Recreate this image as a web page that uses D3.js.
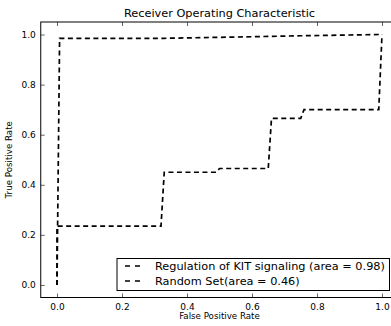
<!DOCTYPE html>
<html>
<head>
<meta charset="utf-8">
<script src="https://cdn.jsdelivr.net/npm/d3@7"></script>
<style>
  body { margin: 0; background: #fff; }
  svg { display: block; font-family: "DejaVu Sans", sans-serif; }
</style>
</head>
<body>
<svg id="svg" width="391" height="326"></svg>
<script>
// ROC curves
const kitFpr = [0, 0.008, 0.33, 0.55, 0.75, 0.99, 1.0];
const kitTpr = [0, 0.985, 0.985, 0.99, 0.995, 1.0, 1.0];

const randFpr = [0, 0.0, 0.01, 0.32, 0.33, 0.49, 0.50, 0.65, 0.66, 0.75, 0.76, 0.99, 1.0];
const randTpr = [0, 0.235, 0.235, 0.235, 0.45, 0.45, 0.465, 0.465, 0.665, 0.665, 0.70, 0.70, 1.0];

const seriesNames = ["Regulation of KIT signaling (area = 0.98)", "Random Set(area = 0.46)"];
const tickValues = [0, 0.2, 0.4, 0.6, 0.8, 1.0];

const svg = d3.select("#svg");

const x = d3.scaleLinear().domain([-0.05, 1.05]).range([40.75, 398.25]);
const y = d3.scaleLinear().domain([-0.05, 1.05]).range([297.5, 22]);

// frame
svg.append("rect")
    .attr("x", x(-0.05)).attr("y", y(1.05))
    .attr("width", x(1.05) - x(-0.05)).attr("height", y(-0.05) - y(1.05))
    .attr("fill", "none").attr("stroke", "#000").attr("stroke-width", 1);

const fmt = d3.format(".1f");

const styleAxis = function(sel){
    sel.select(".domain").remove();
    sel.selectAll(".tick line").attr("stroke", "#000").attr("stroke-width", 0.6);
    sel.selectAll(".tick text").attr("fill", "#000").style("font-family", "DejaVu Sans").style("font-size", "9px");
};

svg.append("g").attr("transform", "translate(0," + y(-0.05) + ")")
    .call(d3.axisBottom(x).tickValues(tickValues).tickFormat(fmt).tickSize(-4).tickPadding(6))
    .call(styleAxis);
svg.append("g").attr("transform", "translate(0," + y(1.05) + ")")
    .call(d3.axisTop(x).tickValues(tickValues).tickFormat("").tickSize(-4))
    .call(styleAxis);
svg.append("g").attr("transform", "translate(" + x(-0.05) + ",0)")
    .call(d3.axisLeft(y).tickValues(tickValues).tickFormat(fmt).tickSize(-4).tickPadding(5))
    .call(styleAxis);
svg.append("g").attr("transform", "translate(" + x(1.05) + ",0)")
    .call(d3.axisRight(y).tickValues(tickValues).tickFormat("").tickSize(-4))
    .call(styleAxis);

// curves
const line = d3.line().x(d => x(d[0])).y(d => y(d[1]));
const kit = d3.zip(kitFpr, kitTpr);
const rand = d3.zip(randFpr, randTpr);

svg.append("g").selectAll("path")
    .data([kit, rand])
    .enter().append("path")
    .attr("d", line)
    .attr("fill", "none")
    .attr("stroke", "#000")
    .attr("stroke-width", 1.7)
    .attr("stroke-dasharray", "5,3.5");

// title and labels
svg.append("text").attr("x", (x(-0.05) + x(1.05)) / 2).attr("y", 17)
    .attr("text-anchor", "middle").style("font-size", "11.3px")
    .text("Receiver Operating Characteristic");
svg.append("text").attr("x", (x(-0.05) + x(1.05)) / 2).attr("y", 319)
    .attr("text-anchor", "middle").style("font-size", "8.7px")
    .text("False Positive Rate");
svg.append("text")
    .attr("transform", "translate(12," + ((y(-0.05) + y(1.05)) / 2) + ") rotate(-90)")
    .attr("text-anchor", "middle").style("font-size", "8.7px")
    .text("True Positive Rate");

// legend
const legend = svg.append("g");
legend.append("rect")
    .attr("x", 117).attr("y", 258.5).attr("width", 272.5).attr("height", 32)
    .attr("fill", "#fff").attr("stroke", "#000").attr("stroke-width", 1);
const rows = legend.selectAll(".row").data(seriesNames).enter().append("g")
    .attr("class", "row")
    .attr("transform", (d, i) => "translate(0," + (266 + i * 15) + ")");
rows.append("line")
    .attr("x1", 125).attr("x2", 141).attr("y1", 0).attr("y2", 0)
    .attr("stroke", "#000").attr("stroke-width", 1.7).attr("stroke-dasharray", "5,5");
rows.append("text")
    .attr("x", 155).attr("y", 0).attr("dy", "0.35em")
    .style("font-size", "11.3px")
    .text(d => d);
</script>
</body>
</html>
